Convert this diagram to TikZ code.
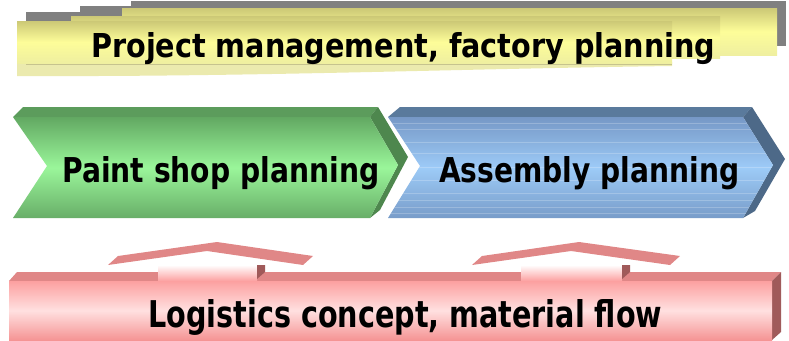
\documentclass[tikz,border=0pt]{standalone}
\usepackage{fontspec}
\setmainfont{DejaVu Sans}
\usepackage{graphicx}
\definecolor{gshadow}{HTML}{808080}
\definecolor{yTop}{HTML}{CCC876}
\definecolor{yMid}{HTML}{FDFD99}
\definecolor{yBot}{HTML}{EFEFA0}
\definecolor{yPale}{HTML}{EBEAAE}
\definecolor{yLine}{HTML}{C6C38E}
\definecolor{gTopF}{HTML}{5C9C5C}
\definecolor{gSide}{HTML}{4E874E}
\definecolor{gT}{HTML}{62A862}
\definecolor{gM}{HTML}{9AF69A}
\definecolor{gB}{HTML}{68AE68}
\definecolor{bTopF}{HTML}{5A7A9C}
\definecolor{bSide}{HTML}{4D6988}
\definecolor{bT}{HTML}{7698C6}
\definecolor{bM}{HTML}{9DCBF7}
\definecolor{bB}{HTML}{789CC9}
\definecolor{rTopF}{HTML}{E08787}
\definecolor{rSide}{HTML}{A05A5A}
\definecolor{rT}{HTML}{FCA0A0}
\definecolor{rM}{HTML}{FFE0E0}
\definecolor{rB}{HTML}{F59494}
\tikzset{
  sheet/.style={top color=yTop, bottom color=yBot, middle color=yMid},
  gface/.style={top color=gT, bottom color=gB, middle color=gM},
  bface/.style={top color=bT, bottom color=bB, middle color=bM},
  rface/.style={top color=rT, bottom color=rB, middle color=rM},
  shaft/.style={top color=white, bottom color=rT},
  lbl/.style={inner sep=0pt, anchor=base west, font=\bfseries},
  stripe/.style={white, opacity=0.22, line width=0.7pt}
}
\begin{document}
\begin{tikzpicture}[x=1pt,y=-1pt]
\useasboundingbox (0,0) rectangle (789,340);
% ---------- yellow banner: shadows first, then sheets ----------
\fill[gshadow] (131,1) rectangle (786,46);
\fill[gshadow] (80,6) rectangle (600,30);
\fill[gshadow] (26,12) rectangle (500,30);
\shade[sheet] (122,8) rectangle (777,55);
\shade[sheet] (71,16) rectangle (720,58);
\fill[yPale] (17,62) -- (672,62) -- (672,66) .. controls (450,69) and (250,77) .. (17,76) -- cycle;
\draw[yLine, line width=1.2pt] (26,64) -- (672,64);
\shade[sheet] (17,21) rectangle (672,63);
\node[lbl] (title) at (91,57) {\resizebox{624pt}{25pt}{Project management, factory planning}};
% ---------- green chevron ----------
\fill[gTopF] (13,117) -- (23,107) -- (378,107) -- (370,117) -- cycle;
\fill[gSide] (370,117) -- (378,107) -- (408,157) -- (380,210) -- (370,218) -- (398,165) -- cycle;
\shade[gface] (13,117) -- (370,117) -- (398,165) -- (370,218) -- (13,218) -- (47,166) -- cycle;
\node[lbl] (paint) at (62,182) {\resizebox{317pt}{26pt}{Paint shop planning}};
% ---------- blue chevron ----------
\fill[bTopF] (388,117) -- (400,107) -- (752,107) -- (743,117) -- cycle;
\fill[bSide] (743,117) -- (752,107) -- (785,159) -- (755,211) -- (743,218) -- (773,165) -- cycle;
\shade[bface] (388,117) -- (743,117) -- (773,165) -- (743,218) -- (388,218) -- (420,166) -- cycle;
\begin{scope}
  \clip (388,117) -- (743,117) -- (773,165) -- (743,218) -- (388,218) -- (420,166) -- cycle;
  \foreach \yy in {123,129,142,153,167,180,193,200,207,213} \draw[stripe] (385,\yy) -- (785,\yy);
\end{scope}
\node[lbl] (assembly) at (439,182) {\resizebox{300pt}{26pt}{Assembly planning}};
% ---------- red bar with arrows ----------
\fill[rTopF] (108,265) -- (118,256) -- (217,242) -- (313,256) -- (303,265) -- (207,251) -- cycle;
\fill[rTopF] (472,265) -- (482,256) -- (579,242) -- (680,256) -- (670,265) -- (571,251) -- cycle;
\fill[rTopF] (9,281) -- (17,272) -- (781,272) -- (772,281) -- cycle;
\shade[shaft] (158,265) rectangle (257,281);
\fill[rSide] (257,265) -- (265,265) -- (265,272) -- (257,279) -- cycle;
\shade[shaft] (521,265) rectangle (622,281);
\fill[rSide] (622,265) -- (630,265) -- (630,272) -- (622,279) -- cycle;
\fill[rSide] (772,281) -- (781,272) -- (781,332) -- (772,340) -- cycle;
\shade[rface] (9,281) rectangle (772,340);
\node[lbl] (logistics) at (148,327) {\resizebox{514pt}{28pt}{Logistics concept, material flow}};
\end{tikzpicture}
\end{document}
